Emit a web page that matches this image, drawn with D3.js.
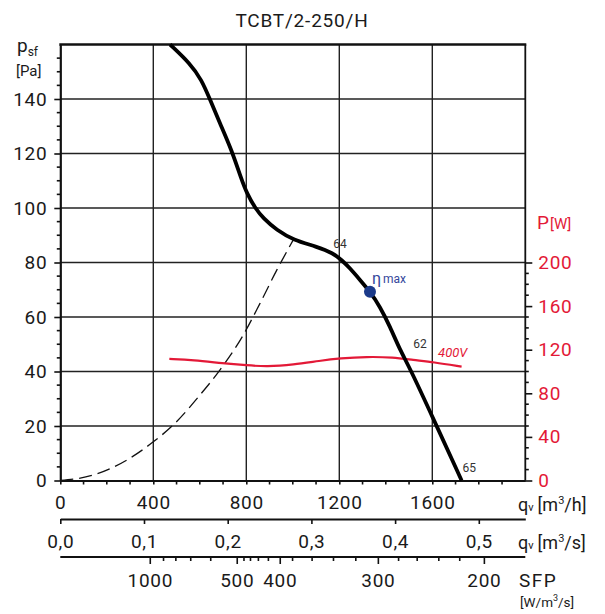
<!DOCTYPE html>
<html>
<head>
<meta charset="utf-8">
<script src="https://cdn.jsdelivr.net/npm/d3@7"></script>
<style>
  body { margin: 0; background: #fff; }
  svg text { font-family: Roboto, "Open Sans", sans-serif; fill: #1a1a1a; }
  .tick-label { font-size: 19px; letter-spacing: 0.7px; }
  .red { fill: #e31937; }
</style>
</head>
<body>
<div id="graphic"></div>
<script>
// ---- data ----
const title = 'TCBT/2-250/H';

// fan curve: airflow [m3/h], static pressure [Pa]
const fanQv = [472, 558, 608, 643, 686, 737, 780, 802, 838, 872, 931, 1002, 1103, 1174, 1210, 1246, 1289, 1332, 1375, 1418, 1461, 1504, 1600, 1726];
const fanPa = [160, 153.1, 147, 140, 131.2, 121.3, 110.3, 105.5, 100, 96.3, 91.9, 88.3, 85.8, 83.4, 80.9, 77.9, 73.6, 69.3, 63.8, 56.5, 47.9, 41.2, 23.5, 0];

// system curve (dashed)
const sysQv = [0, 142, 286, 400, 486, 601, 687, 787, 859, 931, 1002];
const sysPa = [0, 2, 7.5, 14.2, 20.4, 31.4, 40.6, 53.4, 65, 77.2, 88.3];

// power curve 400V: airflow [m3/h], power [W]
const powQv = [469, 572, 701, 802, 888, 1002, 1117, 1203, 1318, 1432, 1518, 1604, 1726];
const powW = [111.5, 110.5, 107.5, 105.7, 104.4, 106.2, 109.9, 112.1, 113.6, 113.0, 110.5, 108.7, 104.4];

// efficiency point and labels on the fan curve
const etaMax = { qv: 1332, pa: 69.3 };
const effLabels = [
  { qv: 1174, pa: 85.5, text: '64' },
  { qv: 1518, pa: 48.8, text: '62' },
  { qv: 1730, pa: 3.3, text: '65' }
];

// axis ticks
const paTicks = [0, 20, 40, 60, 80, 100, 120, 140];
const qvTicks = [0, 400, 800, 1200, 1600];
const qsTicks = [0, 0.1, 0.2, 0.3, 0.4, 0.5];
const wTicks = [0, 40, 80, 120, 160, 200];
// SFP [W/m3/s] ticks placed at the airflow [m3/h] where they fall
const sfpMajor = [
  { sfp: 1000, qv: 387 }, { sfp: 500, qv: 761 }, { sfp: 400, qv: 946 },
  { sfp: 300, qv: 1368 }, { sfp: 200, qv: 1824 }
];
const sfpMinor = [444, 497, 561, 647, 790, 818, 852, 895, 999, 1083, 1175, 1271, 1455, 1535, 1628, 1718];

// ---- layout ----
const width = 605, height = 614;
const plotL = 60.3, plotR = 525.3, plotT = 44.5, plotB = 480.5;
const red = '#e31937';

const svg = d3.select('#graphic').append('svg')
  .attr('width', width).attr('height', height);

const x = d3.scaleLinear().domain([0, 2000]).range([plotL, plotR]);
const xs = d3.scaleLinear().domain([0, 2000 / 3600]).range([plotL, plotR]);
const y = d3.scaleLinear().domain([0, 160]).range([plotB, plotT]);
const yW = d3.scaleLinear().domain([0, 400]).range([plotB, plotT]);

function styleLabels(g, cls) {
  g.selectAll('.tick text').attr('class', cls)
    .attr('font-family', null).attr('font-size', null).attr('fill', null);
}

// title
svg.append('text')
  .attr('x', 302).attr('y', 27)
  .attr('text-anchor', 'middle')
  .style('font-size', '19px').style('letter-spacing', '0.8px')
  .text(title);

// grid
svg.append('g').selectAll('line')
  .data(paTicks.filter(d => d > 0))
  .join('line')
  .attr('x1', plotL).attr('x2', plotR)
  .attr('y1', d => y(d)).attr('y2', d => y(d))
  .attr('stroke', '#222').attr('stroke-width', 1.4);

svg.append('g').selectAll('line')
  .data(qvTicks.filter(d => d > 0))
  .join('line')
  .attr('x1', d => x(d)).attr('x2', d => x(d))
  .attr('y1', plotT).attr('y2', plotB)
  .attr('stroke', '#222').attr('stroke-width', 1.4);

// frame
svg.append('line').attr('x1', plotL - 1).attr('x2', plotR + 1).attr('y1', plotT).attr('y2', plotT)
  .attr('stroke', '#111').attr('stroke-width', 2.6);
svg.append('line').attr('x1', plotR).attr('x2', plotR).attr('y1', plotT).attr('y2', plotB)
  .attr('stroke', '#111').attr('stroke-width', 1.8);

// left axis
const yAxis = d3.axisLeft(y).tickValues(paTicks).tickSize(6).tickPadding(7).tickSizeOuter(0);
const gy = svg.append('g').attr('transform', `translate(${plotL},0)`).call(yAxis);
gy.select('.domain').attr('stroke', '#111').attr('stroke-width', 2.2);
gy.selectAll('.tick line').attr('stroke', '#111').attr('stroke-width', 1.6);
styleLabels(gy, 'tick-label');
svg.append('g').selectAll('line')
  .data(d3.range(5, 160, 5).filter(d => d % 20 != 0))
  .join('line')
  .attr('x1', plotL - 3.5).attr('x2', plotL)
  .attr('y1', d => y(d)).attr('y2', d => y(d))
  .attr('stroke', '#111').attr('stroke-width', 1.6);

// right axis (power)
const wAxis = d3.axisRight(yW).tickValues(wTicks).tickSize(7).tickPadding(6).tickSizeOuter(0);
const gw = svg.append('g').attr('transform', `translate(${plotR},0)`).call(wAxis);
gw.select('.domain').remove();
gw.selectAll('.tick line').attr('stroke', '#111').attr('stroke-width', 1.6);
styleLabels(gw, 'tick-label red');
svg.append('g').selectAll('line')
  .data(d3.range(10, 200, 10).filter(d => d % 40 != 0))
  .join('line')
  .attr('x1', plotR).attr('x2', plotR + 3.5)
  .attr('y1', d => yW(d)).attr('y2', d => yW(d))
  .attr('stroke', '#111').attr('stroke-width', 1.6);

// bottom axis m3/h
const xAxis = d3.axisBottom(x).tickValues(qvTicks).tickSize(4).tickPadding(11).tickSizeOuter(0)
  .tickFormat(d3.format('d'));
const gx = svg.append('g').attr('transform', `translate(0,${plotB})`).call(xAxis);
gx.select('.domain').attr('stroke', '#111').attr('stroke-width', 2.2);
gx.selectAll('.tick line').attr('stroke', '#111').attr('stroke-width', 1.6);
styleLabels(gx, 'tick-label');
svg.append('g').selectAll('line')
  .data(d3.range(100, 2000, 100).filter(d => d % 400 != 0))
  .join('line')
  .attr('x1', d => x(d)).attr('x2', d => x(d))
  .attr('y1', plotB).attr('y2', plotB + 4)
  .attr('stroke', '#111').attr('stroke-width', 1.6);

// second axis m3/s
const ySec = 519;
const xsAxis = d3.axisBottom(xs).tickValues(qsTicks).tickSize(5).tickPadding(11).tickSizeOuter(0)
  .tickFormat(d => d3.format('.1f')(d).replace('.', ','));
const gs = svg.append('g').attr('transform', `translate(0,${ySec})`).call(xsAxis);
gs.select('.domain').attr('stroke', '#111').attr('stroke-width', 2);
gs.selectAll('.tick line').attr('stroke', '#111').attr('stroke-width', 1.6);
styleLabels(gs, 'tick-label');

// SFP axis
const ySfp = 557;
svg.append('line').attr('x1', plotL).attr('x2', plotR).attr('y1', ySfp).attr('y2', ySfp)
  .attr('stroke', '#111').attr('stroke-width', 2);
svg.append('g').selectAll('line')
  .data(sfpMajor)
  .join('line')
  .attr('x1', d => x(d.qv)).attr('x2', d => x(d.qv))
  .attr('y1', ySfp).attr('y2', ySfp + 7)
  .attr('stroke', '#111').attr('stroke-width', 1.6);
svg.append('g').selectAll('line')
  .data(sfpMinor)
  .join('line')
  .attr('x1', d => x(d)).attr('x2', d => x(d))
  .attr('y1', ySfp).attr('y2', ySfp + 4)
  .attr('stroke', '#111').attr('stroke-width', 1.6);
svg.append('g').selectAll('text')
  .data(sfpMajor)
  .join('text')
  .attr('class', 'tick-label')
  .attr('x', d => x(d.qv)).attr('y', 587)
  .attr('text-anchor', 'middle')
  .text(d => d.sfp);

// axis titles
function unitLabel(yPos, unit) {
  const t = svg.append('text').attr('x', 518).attr('y', yPos).style('font-size', '18px');
  t.append('tspan').text('q');
  t.append('tspan').style('font-size', '11px').text('v');
  t.append('tspan').attr('dx', 4).text('[m');
  t.append('tspan').style('font-size', '11px').attr('dy', -7).text('3');
  t.append('tspan').attr('dy', 7).text(unit + ']');
}
unitLabel(511, '/h');
unitLabel(549, '/s');

svg.append('text').attr('x', 519).attr('y', 587)
  .style('font-size', '19px').style('letter-spacing', '1.5px').text('SFP');
const sfpUnit = svg.append('text').attr('x', 520).attr('y', 607).style('font-size', '13.5px');
sfpUnit.append('tspan').text('[W/m');
sfpUnit.append('tspan').style('font-size', '9px').attr('dy', -6).text('3');
sfpUnit.append('tspan').attr('dy', 6).text('/s]');

const pLab = svg.append('text').attr('x', 17).attr('y', 52).style('font-size', '19px');
pLab.append('tspan').text('p');
pLab.append('tspan').style('font-size', '12px').attr('dy', 4).text('sf');
svg.append('text').attr('x', 16).attr('y', 76).style('font-size', '15px').text('[Pa]');

const wLab = svg.append('text').attr('x', 537).attr('y', 229).attr('class', 'red').style('font-size', '19px');
wLab.append('tspan').text('P');
wLab.append('tspan').style('font-size', '15px').attr('dx', 1).text('[W]');

// curves
const line = d3.line().curve(d3.curveMonotoneX);
const smooth = d3.line().curve(d3.curveBasis);

svg.append('path')
  .attr('d', line(sysQv.map((q, i) => [x(q), y(sysPa[i])])))
  .attr('fill', 'none').attr('stroke', '#111').attr('stroke-width', 1.3)
  .attr('stroke-dasharray', '13,6');

svg.append('path')
  .attr('d', smooth(powQv.map((q, i) => [x(q), yW(powW[i])])))
  .attr('fill', 'none').attr('stroke', red).attr('stroke-width', 2.2);

svg.append('path')
  .attr('d', smooth(fanQv.map((q, i) => [x(q), y(fanPa[i])])))
  .attr('fill', 'none').attr('stroke', '#000').attr('stroke-width', 3.8)
  .attr('stroke-linecap', 'butt');

// efficiency labels
svg.append('g').selectAll('text')
  .data(effLabels)
  .join('text')
  .attr('x', d => x(d.qv)).attr('y', d => y(d.pa))
  .style('font-size', '12px').style('fill', '#333')
  .text(d => d.text);

// eta max
svg.append('circle')
  .attr('cx', x(etaMax.qv)).attr('cy', y(etaMax.pa)).attr('r', 6)
  .attr('fill', '#1b3a8a');
const eta = svg.append('text')
  .attr('x', x(etaMax.qv) + 2).attr('y', y(etaMax.pa) - 8)
  .style('fill', '#34479b').style('font-size', '16px');
eta.append('tspan').text('η');
eta.append('tspan').style('font-size', '12px').attr('dx', 2).attr('dy', -1).text('max');

svg.append('text')
  .attr('x', x(1625)).attr('y', yW(powW[11]) - 5)
  .attr('class', 'red').style('font-size', '13px').style('font-style', 'italic')
  .text('400V');
</script>
</body>
</html>
